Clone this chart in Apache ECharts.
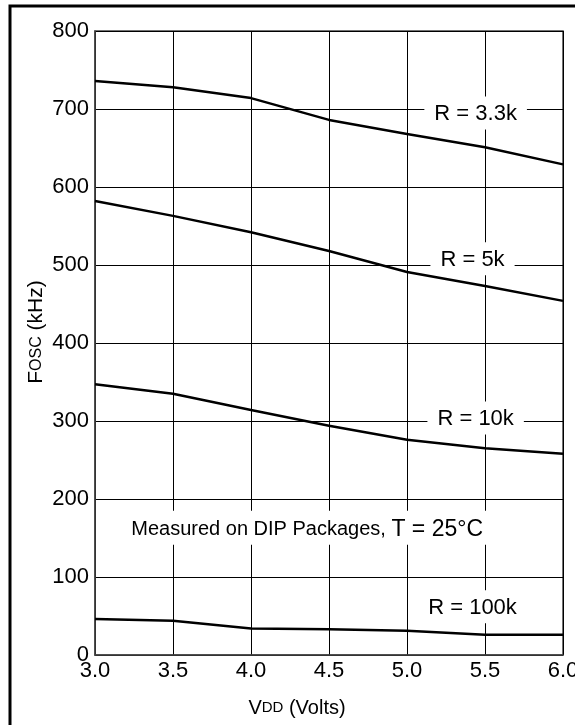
<!DOCTYPE html>
<html>
<head>
<meta charset="utf-8">
<script src="https://cdn.jsdelivr.net/npm/echarts@6/dist/echarts.min.js"></script>
<style>
  html, body { margin: 0; padding: 0; background: #fff; }
  #chart { width: 575px; height: 725px; }
</style>
</head>
<body>
<div id="chart"></div>
<script>
// supply voltage (V)
const vdd = [3.0, 3.5, 4.0, 4.5, 5.0, 5.5, 6.0];

// oscillator frequency in kHz, one curve per resistor
const r3k3 = [736, 728, 714, 686, 668, 651, 629];
const r5k = [582, 563, 542, 518, 491, 473, 454];
const r10k = [347, 335, 314, 294, 276, 265, 258];
const r100k = [46, 44, 34, 33, 31, 26, 26];

// curve labels and the note, placed in data units
const notes = [
  [5.44, 695, "R = 3.3k"],
  [5.42, 508, "R = 5k"],
  [5.44, 304, "R = 10k"],
  [5.42, 62, "R = 100k"],
  [4.36, 163, "{a|Measured on DIP Packages, }{b|T = 25\u00b0C}"],
];

const font = "'Liberation Sans', Arial, sans-serif";

const pairs = (ys) => vdd.map((x, i) => [x, ys[i]]);

const curve = (name, ys) => ({
  name: name,
  type: "line",
  data: pairs(ys),
  symbol: "none",
  lineStyle: { color: "#000", width: 2.5 },
  z: 5,
});

const chart = echarts.init(document.getElementById("chart"));

chart.setOption({
  animation: false,
  backgroundColor: "#fff",
  textStyle: { fontFamily: font },
  graphic: [
    {
      type: "rect",
      shape: { x: 10, y: 6, width: 800, height: 900 },
      style: { fill: "none", stroke: "#000", lineWidth: 3 },
    },
  ],
  grid: {
    left: 95,
    right: 12,
    top: 31,
    bottom: 70,
    containLabel: false,
    outerBoundsMode: "none",
    show: true,
    borderColor: "#444",
    borderWidth: 1.5,
  },
  xAxis: {
    type: "value",
    min: 3,
    max: 6,
    interval: 0.5,
    name: "{v|V}{s|DD}{v| (Volts)}",
    nameLocation: "middle",
    nameGap: 43,
    nameMoveOverlap: false,
    nameTextStyle: {
      padding: [0, 64, 0, 0],
      rich: {
        v: { fontSize: 20, color: "#000", fontFamily: font },
        s: { fontSize: 15, color: "#000", fontFamily: font },
      },
    },
    axisLine: { show: true, lineStyle: { color: "#444", width: 1.5 } },
    axisTick: { show: false },
    axisLabel: {
      color: "#000",
      fontSize: 22,
      margin: 5,
      formatter: (v) => v.toFixed(1),
    },
    splitLine: { show: true, lineStyle: { color: "#000", width: 1 } },
  },
  yAxis: {
    type: "value",
    min: 0,
    max: 800,
    interval: 100,
    name: "{v|F}{s|OSC}{v| (kHz)}",
    nameLocation: "middle",
    nameGap: 48,
    nameMoveOverlap: false,
    nameRotate: 90,
    nameTextStyle: {
      padding: [0, 0, 0, 22],
      rich: {
        v: { fontSize: 21, color: "#000", fontFamily: font },
        s: { fontSize: 16, color: "#000", fontFamily: font },
      },
    },
    axisLine: { show: true, lineStyle: { color: "#444", width: 1.5 } },
    axisTick: { show: false },
    axisLabel: { color: "#000", fontSize: 22, margin: 6 },
    splitLine: { show: true, lineStyle: { color: "#000", width: 1 } },
  },
  series: [
    {
      name: "notes",
      type: "scatter",
      data: notes,
      symbolSize: 0,
      silent: true,
      z: 3,
      itemStyle: { opacity: 1 },
      label: {
        show: true,
        position: "inside",
        opacity: 1,
        color: "#000",
        textBorderWidth: 0,
        textBorderColor: "transparent",
        fontSize: 22,
        fontFamily: font,
        backgroundColor: "#fff",
        padding: [7, 10, 4, 10],
        formatter: (p) => p.data[2],
        rich: {
          a: { fontSize: 20, color: "#000", fontFamily: font },
          b: { fontSize: 23, color: "#000", fontFamily: font },
        },
      },
    },
    curve("R = 3.3k", r3k3),
    curve("R = 5k", r5k),
    curve("R = 10k", r10k),
    curve("R = 100k", r100k),
  ],
});
</script>
</body>
</html>
